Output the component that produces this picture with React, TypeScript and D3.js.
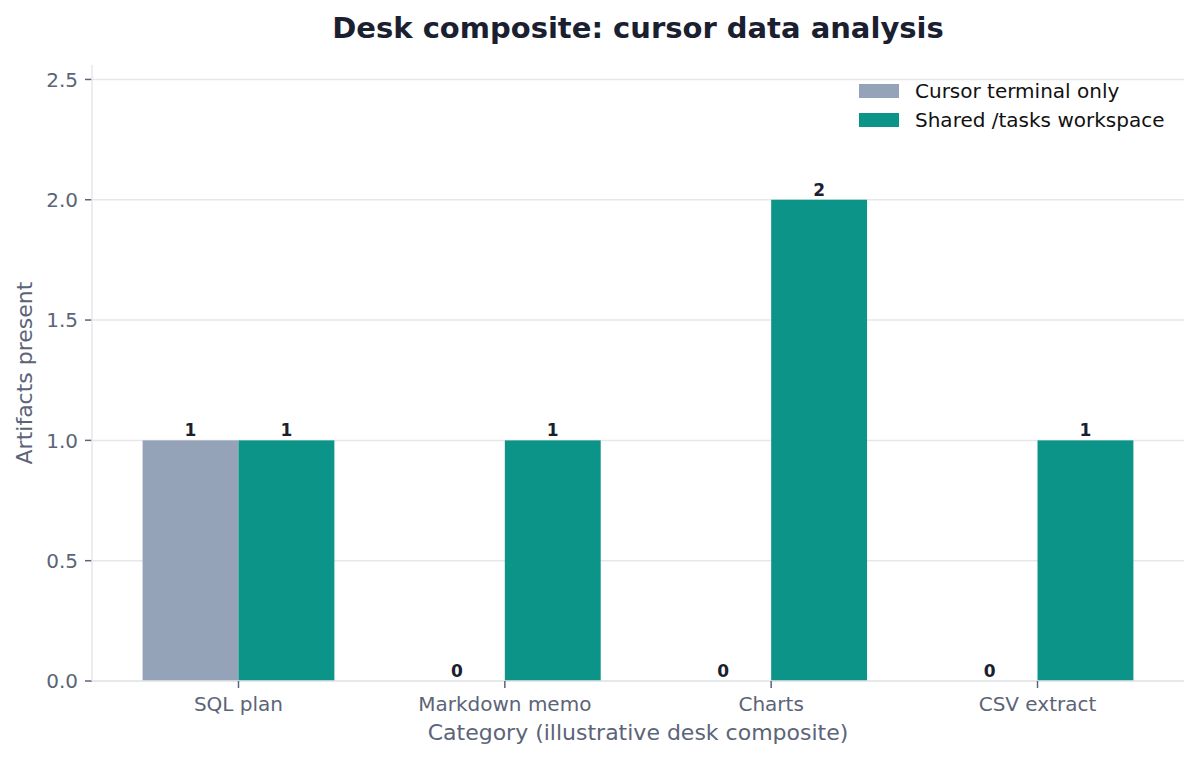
import React from "react";
import * as d3 from "d3";

const categories = ["SQL plan", "Markdown memo", "Charts", "CSV extract"];
const seriesNames = ["Cursor terminal only", "Shared /tasks workspace"];
const cursorOnly = [1, 0, 0, 0];
const sharedWorkspace = [1, 1, 2, 1];
const yTicks = [0, 0.5, 1.0, 1.5, 2.0, 2.5];

const colors = ["#94a3b8", "#0d9488"];
const font = "DejaVu Sans, sans-serif";

const W = 1199;
const H = 760;
const margin = { top: 65, right: 15, bottom: 79, left: 92 };

const App: React.FC = () => {
  const series = [cursorOnly, sharedWorkspace];

  // 카테고리 위치 (matplotlib 스타일 -0.55 ~ 3.55)
  const xScale = d3
    .scaleLinear()
    .domain([-0.55, categories.length - 1 + 0.55])
    .range([margin.left, W - margin.right]);

  const yScale = d3
    .scaleLinear()
    .domain([0, 2.56])
    .range([H - margin.bottom, margin.top]);

  const barW = 0.36;
  const unit = xScale(1) - xScale(0);
  const bottom = yScale(0);

  return (
    <svg width={W} height={H} style={{ position: "absolute", left: 0, top: 0, background: "#fff" }} fontFamily={font}>
      <text x={(margin.left + W - margin.right) / 2} y={38} textAnchor="middle" fontSize={29} fontWeight="bold" fill="#1a2030">
        Desk composite: cursor data analysis
      </text>

      {/* 그리드 */}
      {yTicks.map((t, i) => (
        <g key={i}>
          <line x1={margin.left} x2={W - margin.right} y1={yScale(t)} y2={yScale(t)} stroke="#e5e7eb" strokeWidth={1.5} />
          <line x1={margin.left - 7} x2={margin.left} y1={yScale(t)} y2={yScale(t)} stroke="#5b6478" strokeWidth={1.5} />
          <text x={margin.left - 14} y={yScale(t)} dy="0.36em" textAnchor="end" fontSize={20} fill="#5b6478">
            {t.toFixed(1)}
          </text>
        </g>
      ))}

      {/* 막대 */}
      {series.map((vals, s) =>
        vals.map((v, i) => {
          const x0 = xScale(i + (s === 0 ? -barW : 0));
          return (
            <g key={`${s}-${i}`}>
              <rect x={x0} y={yScale(v)} width={barW * unit} height={bottom - yScale(v)} fill={colors[s]} />
              <text x={x0 + (barW * unit) / 2} y={yScale(v) - 4} textAnchor="middle" fontSize={17} fontWeight="bold" fill="#1a2030">
                {v}
              </text>
            </g>
          );
        })
      )}

      {/* 축 */}
      <line x1={margin.left} x2={margin.left} y1={margin.top} y2={bottom} stroke="#e5e7eb" strokeWidth={1.5} />
      <line x1={margin.left} x2={W - margin.right} y1={bottom} y2={bottom} stroke="#e5e7eb" strokeWidth={1.5} />

      {categories.map((c, i) => (
        <g key={c}>
          <line x1={xScale(i)} x2={xScale(i)} y1={bottom} y2={bottom + 7} stroke="#5b6478" strokeWidth={1.5} />
          <text x={xScale(i)} y={bottom + 30} textAnchor="middle" fontSize={20} fill="#5b6478">
            {c}
          </text>
        </g>
      ))}

      <text x={(margin.left + W - margin.right) / 2} y={740} textAnchor="middle" fontSize={22} fill="#5b6478">
        Category (illustrative desk composite)
      </text>
      <text transform={`translate(32, ${(margin.top + bottom) / 2}) rotate(-90)`} textAnchor="middle" fontSize={22} fill="#5b6478">
        Artifacts present
      </text>

      {/* 범례 */}
      {seriesNames.map((n, i) => (
        <g key={n} transform={`translate(859, ${84 + i * 29})`}>
          <rect width={40} height={14} fill={colors[i]} />
          <text x={56} y={7} dy="0.36em" fontSize={20} fill="#111">
            {n}
          </text>
        </g>
      ))}
    </svg>
  );
};

export default App;
